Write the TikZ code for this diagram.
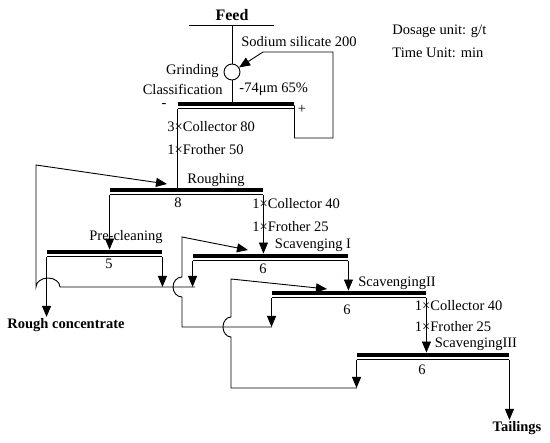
\documentclass[tikz,border=0pt]{standalone}
\usepackage{fontspec}
\setmainfont{Liberation Serif}
\usetikzlibrary{arrows.meta, positioning, calc}

\begin{document}
\begin{tikzpicture}[x=1pt, y=-1pt, line width=0.9pt,
      arr/.style={-{Triangle[length=11pt, width=9pt]}},
      every node/.style={font=\fontsize{14.5}{17}\selectfont, inner sep=1pt},
      cell/.style={minimum width=#1, minimum height=7pt, inner sep=0pt,
                   path picture={
                     \fill (path picture bounding box.north west) rectangle
                           ([yshift=-4pt]path picture bounding box.north east);
                     \draw ([yshift=1pt]path picture bounding box.south west) --
                           ([yshift=1pt]path picture bounding box.south east);}},
      mill/.style={circle, draw, minimum size=16pt, inner sep=0pt},
      lbl/.style={anchor=west},
      bold/.style={font=\fontsize{14.5}{17}\selectfont\bfseries}]
    \useasboundingbox (0,0) rectangle (550,443);

    \node[font=\fontsize{16}{19}\selectfont\bfseries] (feed) at (232,15) {Feed};
    \coordinate (fL) at (189,25);
    \coordinate (fR) at (274,25);
    \coordinate (fM) at (232,25);
    \node[mill] (mil) at (232,72) {};

    \node[cell=116pt] (cls) at (236,105.5) {};
    \node[cell=153pt] (rgh) at (186.5,191.5) {};
    \node[cell=115pt] (pre) at (104.5,253.5) {};
    \node[cell=155pt] (scA) at (270.5,257.5) {};
    \node[cell=154pt] (scB) at (349,294.5) {};
    \node[cell=152pt] (scC) at (433,356.5) {};

    \node (ss) at (299,42) {Sodium silicate 200};
    \node[anchor=east] at (220,71) {Grinding};
    \node[anchor=east] at (224,89) {Classification};
    \node[lbl] at (238,89) {-74μm 65\%};
    \node[inner sep=0pt] at (164,106) {-};
    \node[inner sep=0pt] at (302,109) {+};
    \node[lbl] at (166,127) {3×Collector 80};
    \node[lbl] at (166,150) {1×Frother 50};
    \node at (216,180) {Roughing};
    \node at (178,203) {8};
    \node at (126,237) {Pre-cleaning};
    \node at (109,264) {5};
    \node[bold] (rc) at (66,325) {Rough concentrate};
    \node[lbl] at (251,204) {1×Collector 40};
    \node[lbl] at (251,227) {1×Frother 25};
    \node at (313,245) {Scavenging I};
    \node at (263,269) {6};
    \node at (397,283) {ScavengingII};
    \node at (347,310) {6};
    \node[lbl] at (413.5,306) {1×Collector 40};
    \node[lbl, inner sep=0pt] at (414.5,327) {1×Frother 25};
    \node[inner sep=0pt] at (476,344) {ScavengingIII};
    \node at (422,370) {6};
    \node[bold] (tl) at (517,428) {Tailings};
    \node[lbl] at (391,31) {Dosage unit: g/t};
    \node[lbl] at (391,53) {Time Unit: min};

    \coordinate (ss1) at (333,138);
    \coordinate (ss2) at (263,52);
    \coordinate (jA) at (195,287);
    \coordinate (hA) at (60,287);
    \coordinate (rA) at (36,165);
    \coordinate (inR) at (167,184);
    \coordinate (jB) at (272,327);
    \coordinate (cB1) at (182,327);
    \coordinate (cB2) at (182,297);
    \coordinate (cB3) at (182,237);
    \coordinate (inA) at (248,250);
    \coordinate (jC) at (357,388);
    \coordinate (cC1) at (231,388);
    \coordinate (cC2) at (231,337);
    \coordinate (cC3) at (231,279);
    \coordinate (inB) at (327,289);

    \draw (fL) -- (fR);
    \draw (fM) -- (mil);
    \draw (mil) -- (mil |- cls.north);
    \draw[arr] (cls.east) |- (ss1) |- (ss2) -- (mil);
    \draw (cls.south west) -- (cls.south west |- rgh.north);

    \draw[arr] (rgh.south west) -- (rgh.south west |- pre.north);
    \draw[arr] (rgh.south east) -- (rgh.south east |- scA.north);
    \draw[arr] (scA.south east) -- (scA.south east |- scB.north);
    \draw[arr] (scB.south east) -- (scB.south east |- scC.north);
    \draw[arr] (pre.south west) -- (pre.south west |- rc.north);
    \draw[arr] (scC.south east) -- (scC.south east |- tl.north);

    \draw[arr] (pre.south east) -- (pre.south east |- jA);
    \draw[arr] (scA.south west) -- (scA.south west |- jA);
    \draw[arr] (jA) -- (hA) arc[start angle=0, end angle=180, x radius=12pt, y radius=9pt]
        -- (rA) -- (inR);

    \draw[arr] (scB.south west) -- (scB.south west |- jB);
    \draw[arr] (jB) -- (cB1) -- (cB2)
        arc[start angle=-90, end angle=-270, x radius=9pt, y radius=10pt] -- (cB3) -- (inA);

    \draw[arr] (scC.south west) -- (scC.south west |- jC);
    \draw[arr] (jC) -- (cC1) -- (cC2)
        arc[start angle=-90, end angle=-270, x radius=8pt, y radius=10pt] -- (cC3) -- (inB);
  \end{tikzpicture}
\end{document}
